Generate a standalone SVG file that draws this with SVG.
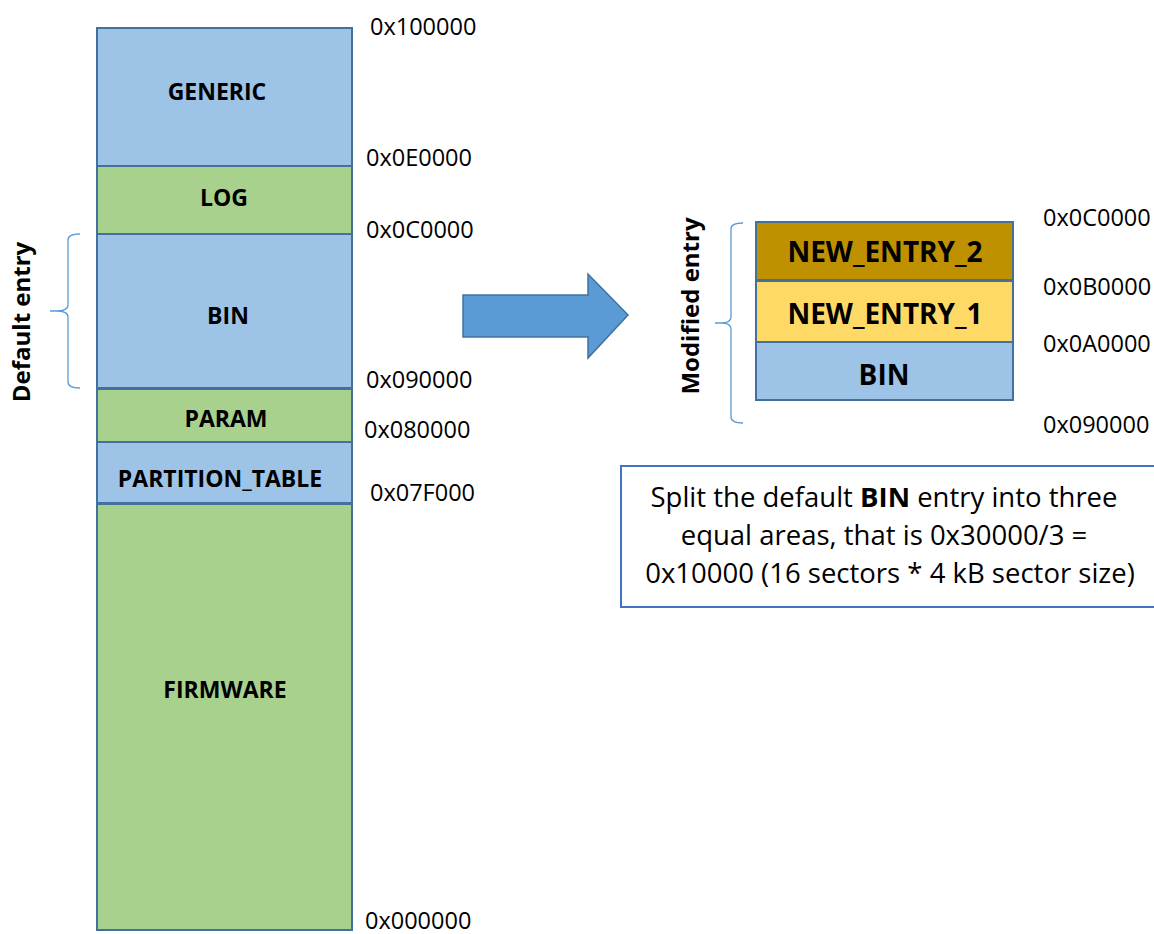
<svg xmlns="http://www.w3.org/2000/svg" width="1154" height="934" viewBox="0 0 1154 934">
<style>
.blue{fill:#9DC3E6;stroke:#41719C;stroke-width:2}
.green{fill:#A9D18E;stroke:#41719C;stroke-width:2}
.gold{fill:#BF9000;stroke:#41719C;stroke-width:2}
.yellow{fill:#FFD966;stroke:#41719C;stroke-width:2}
.lbl{font-family:"Open Sans","Liberation Sans",sans-serif;font-weight:bold;font-size:23px;fill:#000;text-anchor:middle}
.big{font-size:28px}
.side{font-size:24px}
.addr{font-family:"Open Sans","Liberation Sans",sans-serif;font-size:23.5px;fill:#000}
.note{font-family:"Open Sans","Liberation Sans",sans-serif;font-size:27.5px;fill:#000;text-anchor:middle}
.brace{fill:none;stroke:#5B9BD5;stroke-width:1.3}
</style>
<rect width="1154" height="934" fill="#fff"/>
<g id="generic"><rect class="blue" x="97" y="28" width="255" height="138"/><text class="lbl" x="217" y="100">GENERIC</text></g>
<g id="log"><rect class="green" x="97" y="166" width="255" height="68"/><text class="lbl" x="224" y="206">LOG</text></g>
<g id="bin"><rect class="blue" x="97" y="234" width="255" height="154"/><text class="lbl" x="228" y="324">BIN</text></g>
<g id="param"><rect class="green" x="97" y="389" width="255" height="53"/><text class="lbl" x="226" y="427">PARAM</text></g>
<g id="partition_table"><rect class="blue" x="97" y="442" width="255" height="61"/><text class="lbl" x="220" y="487">PARTITION_TABLE</text></g>
<g id="firmware"><rect class="green" x="97" y="504" width="255" height="426"/><text class="lbl" x="225" y="698">FIRMWARE</text></g>
<g id="addresses-left">
<text class="addr" x="370" y="35">0x100000</text>
<text class="addr" x="366" y="166">0x0E0000</text>
<text class="addr" x="366" y="238">0x0C0000</text>
<text class="addr" x="366" y="388">0x090000</text>
<text class="addr" x="364" y="438">0x080000</text>
<text class="addr" x="370" y="501">0x07F000</text>
<text class="addr" x="365" y="929">0x000000</text>
</g>
<g id="default-entry">
<path class="brace" d="M80,234 Q68,234 68,240 L68,305 Q68,311 56,311 L50,311 M56,311 Q68,311 68,317 L68,382 Q68,388 80,388"/>
<text class="lbl side" transform="translate(30,322) rotate(-90)">Default entry</text>
</g>
<g id="connectors">
<path d="M463,295 L588,295 L588,274 L628,315 L588,358 L588,337 L463,337 Z" fill="#5B9BD5" stroke="#41719C" stroke-width="1.5"/>
</g>
<g id="new_entry_2"><rect class="gold" x="756" y="222" width="257" height="58"/><text class="lbl big" x="885" y="262">NEW_ENTRY_2</text></g>
<g id="new_entry_1"><rect class="yellow" x="756" y="281" width="257" height="61"/><text class="lbl big" x="885" y="324">NEW_ENTRY_1</text></g>
<g id="bin2"><rect class="blue" x="756" y="342" width="257" height="58"/><text class="lbl big" x="884" y="385">BIN</text></g>
<g id="modified-entry">
<path class="brace" d="M743,223 Q731,223 731,229 L731,317 Q731,323 721,323 L715,323 M721,323 Q731,323 731,329 L731,417 Q731,423 743,423"/>
<text class="lbl side" transform="translate(699,306) rotate(-90)">Modified entry</text>
</g>
<g id="addresses-right">
<text class="addr" x="1043" y="226">0x0C0000</text>
<text class="addr" x="1043" y="295">0x0B0000</text>
<text class="addr" x="1043" y="352">0x0A0000</text>
<text class="addr" x="1043" y="433">0x090000</text>
</g>
<g id="note">
<rect x="621" y="466" width="540" height="141" fill="#fff" stroke="#4472C4" stroke-width="2"/>
<text class="note" x="884" y="507">Split the default <tspan font-weight="bold">BIN</tspan> entry into three</text>
<text class="note" x="884" y="545">equal areas, that is 0x30000/3 =</text>
<text class="note" x="890" y="583">0x10000 (16 sectors * 4 kB sector size)</text>
</g>
</svg>
